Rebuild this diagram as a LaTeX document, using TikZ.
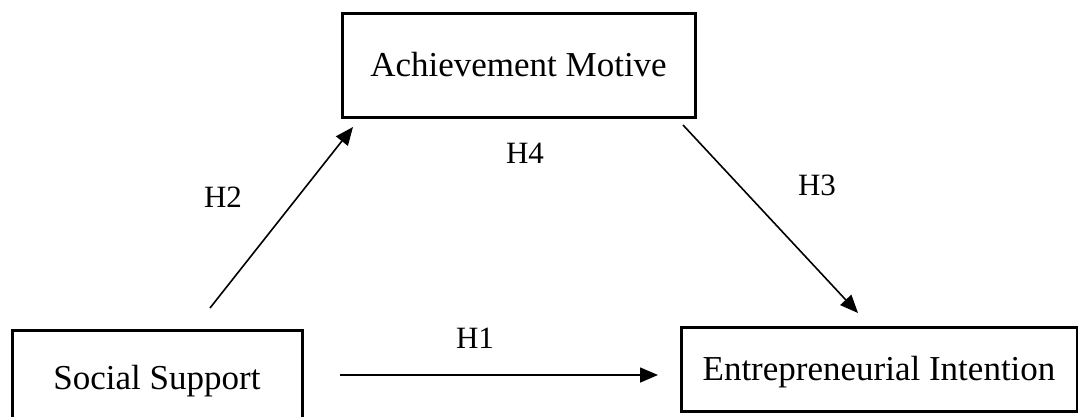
\documentclass[tikz,border=0pt]{standalone}
\usepackage{fontspec}
\setmainfont{Liberation Serif}
\usetikzlibrary{arrows.meta}
\begin{document}
\begin{tikzpicture}[x=1pt,y=-1pt,
  box/.style={draw, line width=3pt, inner sep=0pt, font=\fontsize{35}{40}\selectfont,
    text height=23pt, text depth=0pt, anchor=center},
  hyp/.style={font=\fontsize{31}{36}\selectfont, inner sep=0pt},
  arr/.style={line width=1.6pt, -{Triangle[length=18pt,width=15pt]}}]
  \clip (0,0) rectangle (1078,416);
  % construct boxes
  \node[box, minimum width=353pt, minimum height=104pt] (am) at (518.5,65) {Achievement Motive};
  \node[box, minimum width=290pt, minimum height=96pt] (ss) at (157,378) {Social Support};
  \node[box, minimum width=396pt, minimum height=84pt] (ei) at (879,369) {Entrepreneurial Intention};
  % arrow end points
  \coordinate (h2s) at (210,308);
  \coordinate (h2e) at (353,127);
  \coordinate (h3s) at (683,125);
  \coordinate (h3e) at (858,313);
  \coordinate (h1s) at (340,375);
  \coordinate (h1e) at (658,375);
  % paths
  \draw[arr] (h2s) -- (h2e);
  \draw[arr] (h3s) -- (h3e);
  \draw[arr] (h1s) -- (h1e);
  % hypothesis labels
  \node[hyp] (l2) at (223,197) {H2};
  \node[hyp] (l4) at (525,153) {H4};
  \node[hyp] (l3) at (817,185) {H3};
  \node[hyp] (l1) at (475,338) {H1};
\end{tikzpicture}
\end{document}
